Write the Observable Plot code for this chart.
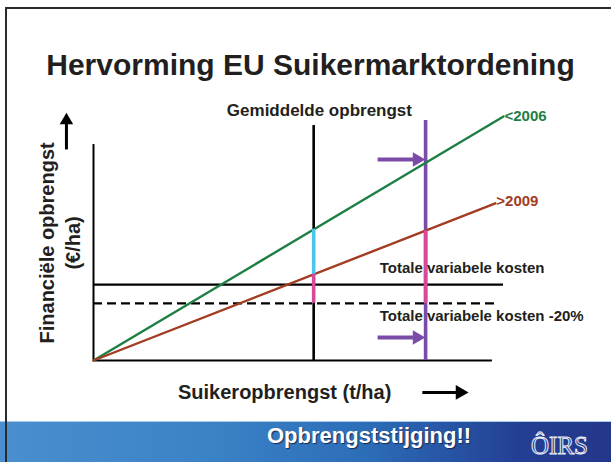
<!DOCTYPE html>
<html>
<head>
<meta charset="utf-8">
<script src="https://cdn.jsdelivr.net/npm/d3@7"></script>
<script src="https://cdn.jsdelivr.net/npm/@observablehq/plot@0.6"></script>
<style>
  html, body { margin: 0; padding: 0; background: #fff; }
  #slide { position: relative; width: 611px; height: 462px; overflow: hidden; background: #fff;
           font-family: "Liberation Sans", Arial, sans-serif; color: #231f20; }
  #border { position: absolute; left: 5px; top: 7px; width: 700px; height: 500px;
            border-left: 2px solid #2b2b2b; border-top: 2px solid #2b2b2b; z-index: 5; }
  #title { position: absolute; left: 0; width: 621px; top: 50px; text-align: center;
           font-weight: bold; font-size: 30px; line-height: 30px; white-space: nowrap; }
  #xlabel { position: absolute; left: 178px; top: 382px; font-weight: bold; font-size: 20px;
            line-height: 20px; white-space: nowrap; }
  #footer { position: absolute; left: 0; top: 421px; width: 611px; height: 41px;
            background: linear-gradient(90deg, #4a8fcf 0%, #3a82c6 35%, #2c6db8 60%, #233f93 85%, #23378a 100%);
            border-top: 1px solid #a9c9e9; box-sizing: border-box; }
  #footnote { position: absolute; left: 267px; top: 425px; color: #fff; font-weight: bold; font-size: 22px;
              line-height: 22px; white-space: nowrap; text-shadow: 1px 1px 1px #1a2a55; }
  #logo { position: absolute; left: 531px; top: 433px; font-family: "Liberation Serif", serif; font-size: 25px;
          line-height: 25px; color: transparent; -webkit-text-stroke: 1px #e8eef8; white-space: nowrap; }
  #chart { position: absolute; left: 0; top: 0; }
</style>
</head>
<body>
<div id="slide">
  <div id="chart"></div>
  <div id="title">Hervorming EU Suikermarktordening</div>
  <div id="xlabel">Suikeropbrengst (t/ha)</div>
  <div id="footer"></div>
  <div id="footnote">Opbrengststijging!!</div>
  <div id="logo">ÔIRS</div>
  <div id="border"></div>
</div>
<script>
// ---- data (arbitrary units, origin at 0,0) ----
const seriesNames  = ["<2006", ">2009"];
const seriesColors = ["#1e7f44", "#a23c22"];
const seriesX      = [[0, 100], [0, 98]];
const seriesY      = [[0, 100], [0, 64.4]];
const seriesLabelX = [100, 98];
const seriesLabelY = [100.2, 65.2];

const axisXEnd = 97.3;
const axisYTop = 88.5;

const costLabels = ["Totale variabele kosten", "Totale variabele kosten -20%"];
const costLevels = [31.1, 23.4];
const costLineEnd = [100, 98.5];
const costLabelX = 69.8;
const costLabelY = [37.7, 18.0];

const avgYield = 53.7, avgTop = 96.3;
const newYield = 81,   newTop = 98.4;
const avgOnOld = 53.7, avgOnNew = 35.3;   // crossings on the average-yield line
const newOnNew = 53.2;                    // crossing of >2009 with the new yield line

const pArrowY = [82.4, 9.4];
const pArrowX1 = 69.3, pArrowX2 = 78.5, pArrowHead = 78.9;

const yLabelLines = ["Financiële opbrengst", "(€/ha)"];
const yLabelX = [-11.2, -4.9];
const yLabelY = 48.2;

const upArrow = {x: -6.6, y1: 86.5, y2: 97, head: 98.4};
const rightArrow = {y: -13.1, x1: 80.2, x2: 89, head: 89.4};

// ---- tables ----
const lineRows = seriesNames.flatMap((s, i) => seriesX[i].map((x, j) => ({series: s, x, y: seriesY[i][j]})));
const labelRows = seriesNames.map((s, i) => ({series: s, x: seriesLabelX[i], y: seriesLabelY[i], color: seriesColors[i]}));
const costRows = costLevels.map((y, i) => ({label: costLabels[i], y, x2: costLineEnd[i], ly: costLabelY[i]}));

const txt = {fontFamily: "Liberation Sans, Arial, sans-serif", fontWeight: "bold", fill: "#231f20"};
const purple = "#7a4ca8", pink = "#d9499b", cyan = "#4cc4ee";

const chart = Plot.plot({
  width: 611, height: 462,
  marginLeft: 93, marginRight: 108, marginTop: 116, marginBottom: 102,
  x: {domain: [0, 100], axis: null},
  y: {domain: [0, 100], axis: null},
  style: {background: "transparent", overflow: "visible"},
  marks: [
    // axes
    Plot.ruleY([0], {x1: 0, x2: axisXEnd, stroke: "#000", strokeWidth: 2}),
    Plot.ruleX([0], {y1: 0, y2: axisYTop, stroke: "#000", strokeWidth: 2}),
    // cost levels
    Plot.ruleY([costRows[0]], {y: "y", x1: 0, x2: "x2", stroke: "#000", strokeWidth: 2.2}),
    Plot.ruleY([costRows[1]], {y: "y", x1: 0, x2: "x2", stroke: "#000", strokeWidth: 2.2, strokeDasharray: "9,5"}),
    // verticals
    Plot.ruleX([avgYield], {y1: 0, y2: avgTop, stroke: "#000", strokeWidth: 2.6}),
    Plot.ruleX([newYield], {y1: 0, y2: newTop, stroke: purple, strokeWidth: 3.6}),
    // revenue lines
    Plot.line(lineRows, {x: "x", y: "y", z: "series", stroke: "series", strokeWidth: 2.4}),
    // highlighted segments
    Plot.ruleX([avgYield], {y1: avgOnNew, y2: avgOnOld, stroke: cyan, strokeWidth: 3.6}),
    Plot.ruleX([avgYield], {y1: costLevels[1], y2: avgOnNew, stroke: pink, strokeWidth: 3.6}),
    Plot.ruleX([newYield], {y1: costLevels[1], y2: newOnNew, stroke: pink, strokeWidth: 3.6}),
    // purple arrows
    Plot.link(pArrowY, {x1: pArrowX1, x2: pArrowX2, y1: d => d, y2: d => d, stroke: purple, strokeWidth: 4}),
    Plot.dot(pArrowY, {x: pArrowHead, y: d => d, symbol: "triangle", rotate: 90, r: 5.4, fill: purple, stroke: "none"}),
    // y-axis arrow
    Plot.link([upArrow], {x1: "x", x2: "x", y1: "y1", y2: "y2", stroke: "#000", strokeWidth: 3}),
    Plot.dot([upArrow], {x: "x", y: "head", symbol: "triangle", r: 5, fill: "#000", stroke: "none"}),
    // x-axis arrow
    Plot.link([rightArrow], {x1: "x1", x2: "x2", y1: "y", y2: "y", stroke: "#000", strokeWidth: 3}),
    Plot.dot([rightArrow], {x: "head", y: "y", symbol: "triangle", rotate: 90, r: 5.5, fill: "#000", stroke: "none"}),
    // labels
    Plot.text(labelRows, {x: "x", y: "y", text: "series", fill: "color", textAnchor: "start", dx: 1,
      fontFamily: txt.fontFamily, fontWeight: "bold", fontSize: 15}),
    Plot.text(costRows, {x: costLabelX, y: "ly", text: "label", textAnchor: "start", fontSize: 15, ...txt}),
    Plot.text(["Gemiddelde opbrengst"], {x: 55.1, y: 102.6, text: d => d, fontSize: 17, ...txt}),
    Plot.text(yLabelLines, {x: (d, i) => yLabelX[i], y: yLabelY, text: d => d, rotate: -90, fontSize: 20, ...txt})
  ],
  color: {domain: seriesNames, range: seriesColors}
});
document.getElementById("chart").appendChild(chart);
</script>
</body>
</html>
